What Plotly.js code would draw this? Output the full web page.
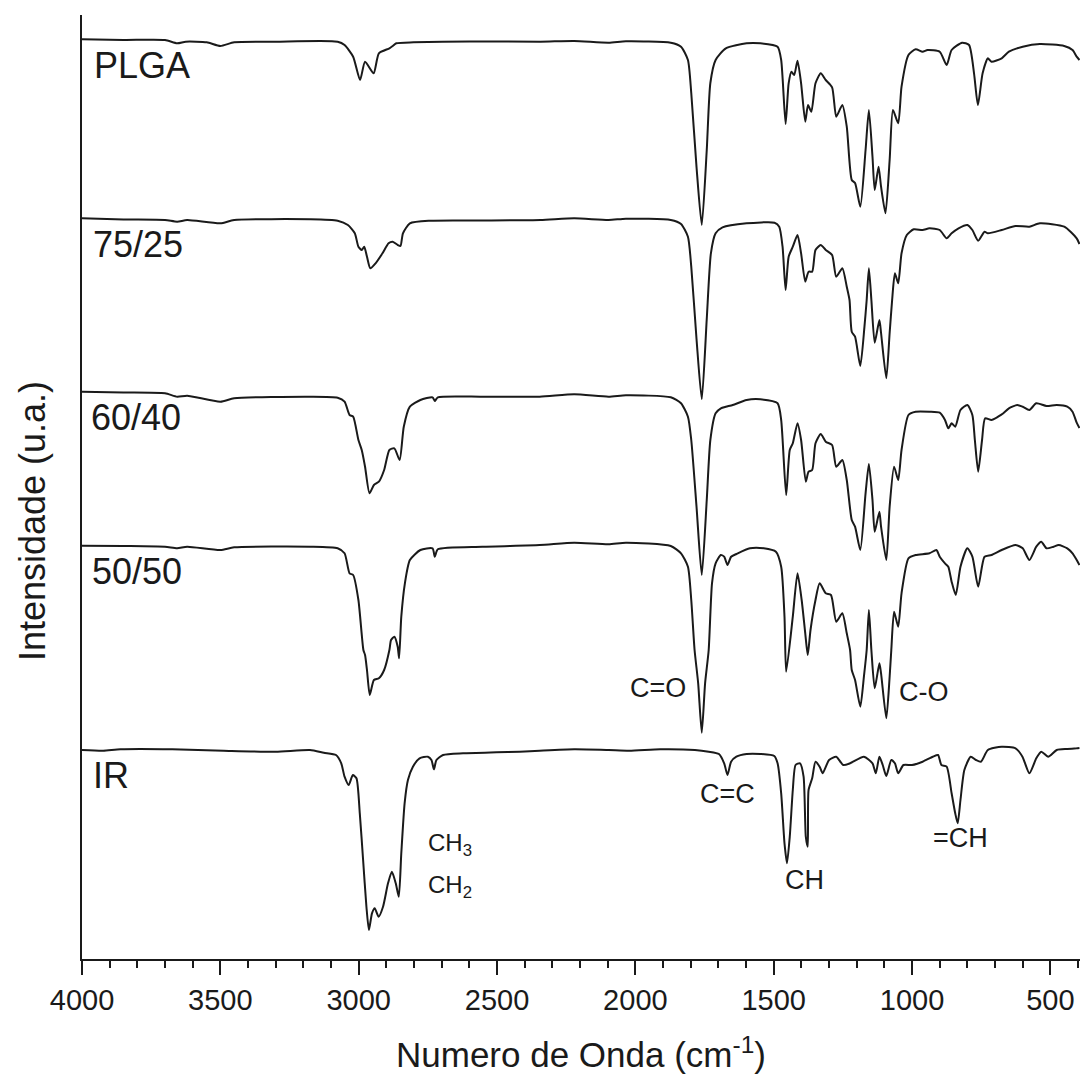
<!DOCTYPE html>
<html>
<head>
<meta charset="utf-8">
<script src="https://cdn.plot.ly/plotly-3.0.1.min.js"></script>
<style>
  html, body { margin: 0; padding: 0; background: #ffffff; }
  #chart { width: 1082px; height: 1077px; }
</style>
</head>
<body>
<div id="chart"></div>
<script>
// Spectra: [wavenumber (cm-1), intensity (a.u., stacked)]
const plga = [[4000,919.7],[3850,919],[3700,919],[3656,915.7],[3625,917.3],[3549,916.7],[3500,913],[3450,916.7],[3300,917.3],[3076,917.3],[3051,914],[3020,902.3],[2995,879],[2977,897.3],[2946,885.7],[2927,905.7],[2889,910.7],[2877,913],[2864,915.7],[2802,916.7],[2600,917.5],[2343,917.3],[2221,918],[2097,916.3],[2034,917.7],[1872,916.3],[1835,912.3],[1810,899],[1798,866],[1779,792],[1760,734],[1742,809],[1729,876],[1710,899],[1673,910.7],[1598,915.7],[1548,915.7],[1486,912.3],[1473,899],[1457,835],[1446,875.7],[1436,887.3],[1426,884],[1414,898.3],[1401,875.7],[1386,837.3],[1376,854],[1364,847.3],[1349,875.7],[1330,885.7],[1312,879],[1289,871.7],[1274,842.3],[1252,854],[1236,832.3],[1218,779],[1206,776],[1187,752.3],[1168,809],[1156,849],[1143,802.3],[1135,769],[1121,792.3],[1112,772.3],[1096,745.7],[1081,799],[1069,849],[1050,835.7],[1038,872.3],[1013,904],[987,909.7],[962,907.3],[944,909],[900,907.3],[875,894],[857,909],[819,916.3],[794,914],[776,885.7],[762,854],[745,885.7],[726,900.7],[713,897.3],[676,900.7],[650,907.3],[600,912.3],[538,915],[450,913],[420,909],[405,902.3],[395,899]];

const s7525 = [[4000,740.7],[3850,739.5],[3700,739],[3656,737.3],[3620,739],[3500,735.7],[3450,739],[3176,739.7],[3076,738.3],[3039,734],[3014,725.7],[3001,712.3],[2989,709],[2980,712.3],[2970,702.3],[2958,690.7],[2939,695.7],[2914,705.7],[2892,715.7],[2877,717.3],[2859,714],[2849,713],[2840,725.7],[2815,735.7],[2740,738.3],[2550,738.5],[2343,739],[2221,740.7],[2097,739],[2034,740.3],[1872,739],[1835,735],[1810,722.3],[1798,692.3],[1779,620],[1760,559.7],[1742,640],[1727,705.7],[1710,725.7],[1685,731.7],[1598,735.7],[1497,736.3],[1480,732.3],[1468,712.3],[1457,669],[1446,702.3],[1431,712.3],[1414,724],[1401,705.7],[1386,677.3],[1374,687.3],[1361,687.3],[1349,709],[1330,714],[1312,709],[1289,704],[1274,682.3],[1252,690.7],[1236,672.3],[1226,659],[1218,627.3],[1206,622.3],[1187,593],[1172,632.3],[1164,659],[1156,690.7],[1147,659],[1135,616.3],[1118,639],[1112,626],[1093,580.7],[1081,626],[1072,659],[1062,685.7],[1050,675.7],[1038,705.7],[1019,724],[994,729.7],[962,729],[937,730.7],[900,729],[875,720.7],[857,725.7],[832,730.7],[800,734],[782,729],[761,718.3],[738,727.3],[726,725.7],[676,729],[626,733],[576,732.3],[538,735.7],[450,732.3],[405,720.7],[395,715]];

const s6040 = [[4000,567.3],[3850,566.5],[3700,565.7],[3656,562.3],[3620,563.3],[3500,557.3],[3450,560.7],[3176,562.3],[3076,561.3],[3051,557.3],[3033,544],[3020,542.3],[3001,519],[2989,509],[2977,492.3],[2961,465.7],[2945,474],[2927,477.3],[2908,489],[2889,509],[2871,510.7],[2852,499],[2837,532.3],[2815,552.3],[2777,559],[2733,561.7],[2725,558],[2714,561.7],[2553,562.3],[2346,562.3],[2221,564.7],[2097,562.3],[2034,563.7],[1872,561.7],[1835,555.7],[1810,542.3],[1798,519],[1779,452.3],[1760,384],[1742,459],[1729,519],[1710,545.7],[1691,550.7],[1673,552.3],[1648,554],[1598,559],[1548,559.7],[1486,555.7],[1473,539],[1455,464],[1442,509],[1431,515.7],[1414,535.7],[1401,519],[1384,477.3],[1374,487.3],[1361,489],[1349,515.7],[1330,525],[1312,517.3],[1289,514],[1274,492.3],[1252,499],[1236,479],[1218,439],[1206,432.3],[1187,409],[1168,465.7],[1156,495],[1143,459],[1135,427.3],[1118,447.3],[1112,432.3],[1093,399],[1081,452.3],[1065,492.3],[1050,479],[1038,509],[1013,544],[987,547.3],[937,547.3],[900,546.3],[881,539],[869,530.7],[857,535.7],[844,532.3],[825,549],[800,554],[782,544],[773,519],[761,487.3],[747,519],[736,540.7],[713,539],[689,542.3],[670,545.7],[650,550.7],[620,554],[600,552.3],[576,549],[551,555.7],[514,553],[477,554],[439,552.3],[420,547.3],[405,536.3],[395,531]];

const s5050 = [[4000,413.3],[3850,413],[3700,412.3],[3656,410.7],[3620,412.3],[3500,409],[3450,411.7],[3176,412.3],[3076,410.7],[3051,405.7],[3033,385.7],[3020,384],[3001,359],[2983,309],[2977,304],[2970,289],[2960,264],[2945,279],[2927,280.7],[2908,289],[2889,309],[2883,319],[2871,322.3],[2859,312.3],[2854,300.7],[2846,342.3],[2833,375.7],[2815,399],[2777,409],[2733,410.7],[2725,402.3],[2714,409.7],[2553,412.3],[2346,414],[2221,416.3],[2097,414.7],[2034,416.3],[1872,413],[1835,405.7],[1810,392.3],[1798,359],[1786,309],[1773,275.7],[1760,226.3],[1748,275.7],[1735,309],[1723,375.7],[1710,395.7],[1691,404],[1679,402.3],[1667,394],[1654,402.3],[1635,405],[1586,410.7],[1536,410.7],[1492,407.3],[1473,392.3],[1461,342.3],[1455,287.3],[1431,342.3],[1414,385.7],[1399,359],[1386,325.7],[1377,304],[1367,329],[1349,359],[1334,375.7],[1312,365.7],[1293,364],[1274,337.3],[1252,345.7],[1236,325.7],[1224,309],[1218,289],[1206,279],[1187,252.3],[1174,282.3],[1164,309],[1156,349],[1147,309],[1135,270.7],[1118,295.7],[1112,285.7],[1093,240.7],[1081,282.3],[1075,309],[1065,347.3],[1050,332.3],[1038,365.7],[1013,400.7],[987,404],[937,405.7],[912,409],[900,402.3],[881,395.7],[869,392.3],[857,377.3],[842,364],[825,392.3],[800,410.7],[782,402.3],[761,372.3],[738,402.3],[713,404],[676,409],[626,414],[600,410.7],[576,399],[551,412.3],[533,417.3],[514,410.7],[489,412.3],[470,414],[439,410.7],[420,405.7],[405,399],[395,394]];

const ir = [[4000,209],[3924,208.3],[3861,209.7],[3674,209.7],[3488,208.3],[3300,207.3],[3176,209],[3126,206.3],[3082,204],[3063,195.7],[3051,182.3],[3036,174],[3021,184],[3008,180.7],[2996,145.7],[2984,99],[2972,52.3],[2963,29],[2952,45.7],[2942,50.7],[2928,42.3],[2912,52.3],[2894,75.7],[2880,87.3],[2866,75.7],[2855,62.3],[2846,105.7],[2834,155.7],[2822,179],[2804,192.3],[2780,200.7],[2750,202.3],[2737,199],[2728,189.7],[2719,199],[2695,204],[2623,205.7],[2502,206.7],[2418,207.3],[2346,208.3],[2221,209.7],[2097,209],[2022,208.3],[1910,209.7],[1785,209],[1735,207.3],[1698,205],[1679,195.7],[1667,184],[1654,197.3],[1635,202.3],[1598,205],[1548,205],[1498,203],[1486,195.7],[1473,165.7],[1461,115.7],[1452,95.7],[1442,122.3],[1431,169],[1421,194],[1405,195.7],[1392,182.3],[1384,122.3],[1377,112.3],[1374,169],[1361,180.7],[1349,197.3],[1334,192.3],[1323,185.7],[1300,199],[1274,202.3],[1249,194],[1224,195.7],[1174,202.3],[1143,195.7],[1131,185.7],[1118,202.3],[1106,194],[1093,183],[1075,199],[1062,195.7],[1050,185.7],[1031,194],[1000,194],[962,197.3],[925,202.3],[906,204],[894,194],[875,192.3],[857,165.7],[844,145.7],[835,135.7],[825,159],[811,189],[788,202.3],[769,199],[751,197.3],[726,209],[676,212.3],[626,210.7],[601,202.3],[576,185.7],[551,200.7],[533,207.3],[508,202.3],[477,209],[439,210],[405,210.7],[395,211]];

const seriesNames = ['PLGA', '75/25', '60/40', '50/50', 'IR'];
const seriesData = [plga, s7525, s6040, s5050, ir];

const xTickVals = [4000, 3500, 3000, 2500, 2000, 1500, 1000, 500];
const xTickText = ['4000', '3500', '3000', '2500', '2000', '1500', '1000', '500'];

// Labels of bands
const bandLabels = ['C=O', 'C-O', 'C=C', 'CH', '=CH'];
const bandAt = [[1919, 271], [958, 267], [1666, 165], [1388, 79], [824, 121]];
const groupLabels = ['CH<sub>3</sub>', 'CH<sub>2</sub>'];
const groupAt = [[2755, 115], [2755, 73]];
const sampleAt = [[3965, 893.5], [3968, 715], [3975, 541.5], [3972, 387.5], [3968, 184]];

const FONT = 'Arial, "Liberation Sans", Helvetica, sans-serif';
const INK = '#1a1a1a';

const traces = seriesData.map((d, i) => ({
  type: 'scatter',
  mode: 'lines',
  name: seriesNames[i],
  x: d.map(p => p[0]),
  y: d.map(p => p[1]),
  line: { color: INK, width: 2, shape: 'spline', smoothing: 0.6 },
  hoverinfo: 'x+y+name',
  showlegend: false
}));

const annotations = [];
seriesNames.forEach((n, i) => {
  annotations.push({
    x: sampleAt[i][0], y: sampleAt[i][1], xref: 'x', yref: 'y',
    text: n, showarrow: false, xanchor: 'left', yanchor: 'middle',
    font: { family: FONT, size: 36, color: INK }
  });
});
bandLabels.forEach((t, i) => {
  annotations.push({
    x: bandAt[i][0], y: bandAt[i][1], xref: 'x', yref: 'y',
    text: t, showarrow: false, xanchor: 'center', yanchor: 'middle',
    font: { family: FONT, size: 27, color: INK }
  });
});
groupLabels.forEach((t, i) => {
  annotations.push({
    x: groupAt[i][0], y: groupAt[i][1], xref: 'x', yref: 'y',
    text: t, showarrow: false, xanchor: 'left', yanchor: 'middle',
    font: { family: FONT, size: 24, color: INK }
  });
});
// y-axis title (placed as in the original, off-centre along the axis)
annotations.push({
  x: -0.049, y: 0.464, xref: 'paper', yref: 'paper',
  text: 'Intensidade (u.a.)', textangle: -90, showarrow: false,
  xanchor: 'center', yanchor: 'middle',
  font: { family: FONT, size: 36, color: INK }
});

const layout = {
  width: 1082,
  height: 1077,
  margin: { l: 82, r: 2, t: 15, b: 118 },
  paper_bgcolor: '#ffffff',
  plot_bgcolor: '#ffffff',
  showlegend: false,
  font: { family: FONT, color: INK },
  xaxis: {
    range: [4000, 393],
    showgrid: false,
    zeroline: false,
    showline: true,
    linecolor: INK,
    linewidth: 2,
    ticks: 'outside',
    ticklen: 14,
    tickwidth: 2,
    tickcolor: INK,
    tickvals: xTickVals,
    ticktext: xTickText,
    tickfont: { family: FONT, size: 29, color: INK },
    minor: { dtick: 100, ticks: 'outside', ticklen: 7, tickwidth: 2, tickcolor: INK, showgrid: false },
    title: { text: 'Numero de Onda (cm<sup>-1</sup>)', font: { family: FONT, size: 35, color: INK }, standoff: 28 },
    automargin: false
  },
  yaxis: {
    range: [0, 944],
    showgrid: false,
    zeroline: false,
    showline: true,
    linecolor: INK,
    linewidth: 2,
    ticks: '',
    showticklabels: false,
    automargin: false
  },
  annotations: annotations
};

Plotly.newPlot('chart', traces, layout, { displayModeBar: false, staticPlot: true });
</script>
</body>
</html>
